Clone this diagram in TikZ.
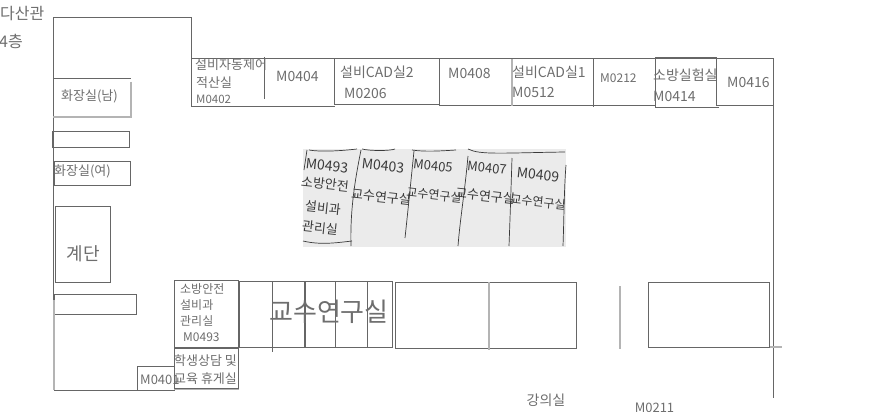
\documentclass[tikz,border=0pt]{standalone}
\usepackage{fontspec}
\setmainfont{Noto Sans CJK KR}
\definecolor{wall}{HTML}{666666}
\definecolor{lite}{HTML}{B4B4B4}
\definecolor{ink}{HTML}{6E6E6E}
\definecolor{paper}{HTML}{EBEBEB}
\definecolor{pen}{HTML}{3A3A3A}
\tikzset{
 wl/.style={draw=wall,line width=1pt},
 lw/.style={draw=lite,line width=1.3pt},
 hw/.style={draw=wall,line width=1.5pt},
 pn/.style={draw=pen,line width=.7pt},
 lab/.style={text=ink,inner sep=0pt,font=\fontsize{#1}{#1}\selectfont},
 lab/.default=13,
 hand/.style={text=pen,inner sep=0pt,font=\fontsize{#1}{#1}\selectfont,rotate=-6},
}
\begin{document}
\begin{tikzpicture}[x=1pt,y=-1pt]
\useasboundingbox (0,0) rectangle (892,412);
\fill[white] (0,0) rectangle (892,412);
% walls
\draw[wl] (53,390) -- (53,18) -- (191,18) -- (191,106) -- (335,106);
\draw[wl] (191,59) -- (773,59) -- (773,398);
\draw[wl] (264,57) -- (264,99);
\draw[wl] (334,59) rectangle (439,104);
\draw[wl] (439,59) -- (439,105) -- (655,105);
\draw[lw] (512,59) -- (512,106);
\draw[wl] (593,59) -- (593,107);
\draw[wl] (655,58) -- (716,58) -- (716,105) -- (773,105);
\draw[wl] (655,58) -- (655,107) -- (719,107);
% left rooms
\draw[wl] (53,78.5) -- (131,78.5);
\draw[lw] (131,82) -- (131,117) -- (53,117);
\draw[wl] (52,131) rectangle (129.5,147);
\draw[wl] (54,161) rectangle (130,185);
\draw[wl] (55,206) rectangle (110.5,282);
\draw[wl] (54,294) rectangle (136.5,314);
\draw[lw] (54,300) -- (54,390);
\draw[wl] (54,390) -- (174,390);
\draw[wl] (137,366) rectangle (174,390);
\draw[wl] (174,280) rectangle (238,347);
\draw[hw] (174,348) -- (238.5,348);
\draw[wl] (174,348) rectangle (238.5,388);
\draw[lw] (174,389.5) -- (239,389.5);
% faculty rooms
\draw[wl] (239,281) rectangle (392.7,347);
\draw[wl] (272,281) -- (272,352);
\draw[hw] (305,281) -- (305,347);
\draw[wl] (335.5,281) -- (335.5,347);
\draw[wl] (367,281) -- (367,348);
\draw[wl] (395,282) rectangle (576.5,348.5);
\draw[lw] (489,282) -- (489,350);
\draw[lw] (620,286) -- (620,349);
\draw[wl] (648,282) rectangle (769.5,347);
\draw[lw] (770,347) -- (782,347);
% labels
\node[lab=16,anchor=west] (t1) at (0,14) {다산관};
\node[lab=16,anchor=west] (t2) at (-1,41) {4층};
\node[lab=13,anchor=west] (r1) at (195,65) {설비자동제어};
\node[lab=13,anchor=west] (r2) at (196,83) {적산실};
\node[lab=11.5,anchor=west] (r3) at (196,99.5) {M0402};
\node[lab=14,anchor=west] (r4) at (276,76.5) {M0404};
\node[lab=14,anchor=west] (r5) at (340,72) {설비CAD실2};
\node[lab=14,anchor=west] (r6) at (344,93) {M0206};
\node[lab=14,anchor=west] (r7) at (448,73.5) {M0408};
\node[lab=14,anchor=west] (r8) at (512,72) {설비CAD실1};
\node[lab=14,anchor=west] (r9) at (512,92.5) {M0512};
\node[lab=12,anchor=west] (r10) at (600,78) {M0212};
\node[lab=14,anchor=west] (r11) at (653,75) {소방실험실};
\node[lab=14,anchor=west] (r12) at (653,96) {M0414};
\node[lab=14,anchor=west] (r13) at (727,82.5) {M0416};
\node[lab=13,anchor=west] (a1) at (61,96) {화장실(남)};
\node[lab=13,anchor=west] (a2) at (54,171) {화장실(여)};
\node[lab=18,anchor=center] (a3) at (83,254) {계단};
\node[lab=12,anchor=west] (b1) at (180,289) {소방안전};
\node[lab=12,anchor=west] (b2) at (180,305) {설비과};
\node[lab=12,anchor=west] (b3) at (180,321) {관리실};
\node[lab=12,anchor=west] (b4) at (183,337.5) {M0493};
\node[lab=13,anchor=west] (c1) at (174,361) {학생상담 및};
\node[lab=13,anchor=west] (c2) at (174,378.5) {교육 휴게실};
\node[lab=13,anchor=west] (c3) at (140,380) {M0401};
\node[lab=26] (d1) at (329,312) {교수연구실};
\node[lab=14] (e1) at (546,400) {강의실};
\node[lab=13] (e2) at (654.5,408) {M0211};
% handwritten sheet
\fill[paper] (303,149) rectangle (566,247);
\draw[pn] (309,150) .. controls (320,152) and (340,151) .. (357,149);
\draw[pn] (362,149) .. controls (370,151) and (390,151) .. (395,149);
\draw[pn] (412,150) .. controls (425,152) and (440,151) .. (456,150);
\draw[pn] (468,149) .. controls (480,155) and (500,153) .. (565,152);
\draw[pn] (307,150) -- (304,170);
\draw[pn] (361,150) .. controls (355,180) and (350,210) .. (351,246);
\draw[pn] (414,151) .. controls (410,190) and (408,210) .. (405,238);
\draw[pn] (468,156) .. controls (465,190) and (460,220) .. (458,246);
\draw[pn] (512,158) .. controls (511,190) and (510,220) .. (509,246);
\draw[pn] (566,165) .. controls (564,190) and (564,220) .. (563,246);
\draw[pn] (303,241) .. controls (320,245) and (335,243) .. (352,241);
\node[hand=14] (h1) at (327,166) {M0493};
\node[hand=13] (h2) at (325,184) {소방안전};
\node[hand=13] (h3) at (323,208) {설비과};
\node[hand=13] (h4) at (320,228) {관리실};
\node[hand=14] (h5) at (383,166) {M0403};
\node[hand=13] (h6) at (381,197) {교수연구실};
\node[hand=13] (h7) at (433,166) {M0405};
\node[hand=12] (h8) at (434,195) {교수연구실};
\node[hand=13] (h9) at (487,168) {M0407};
\node[hand=13] (h10) at (485,196) {교수연구실};
\node[hand=14] (h11) at (538,175) {M0409};
\node[hand=12] (h12) at (538,202) {교수연구실};
\end{tikzpicture}
\end{document}
